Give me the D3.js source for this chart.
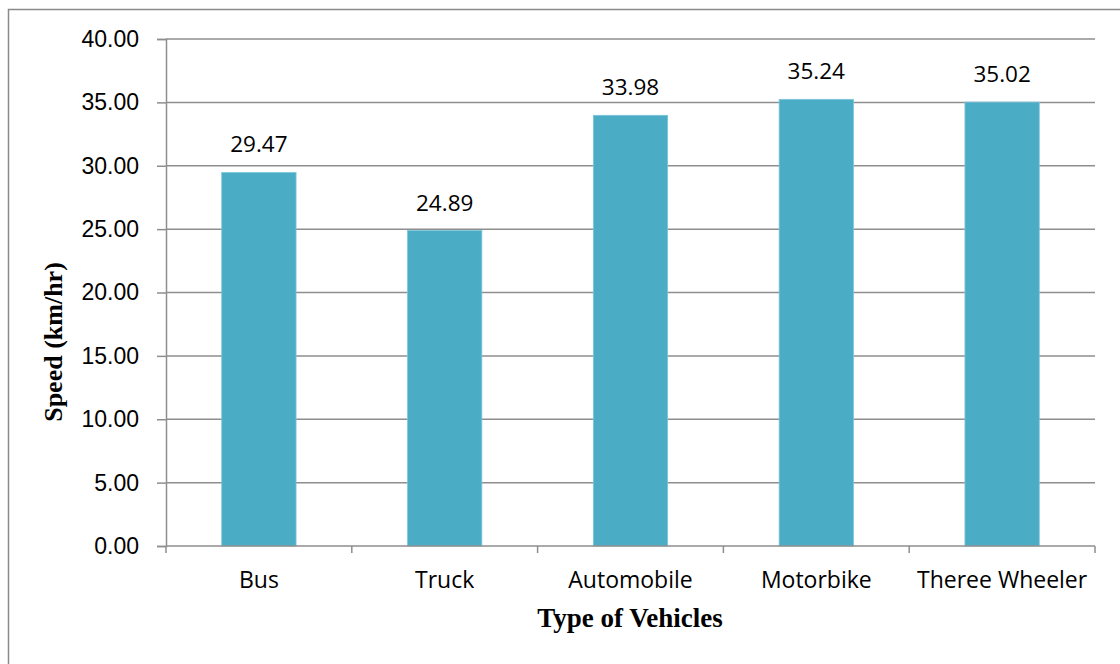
<!DOCTYPE html>
<html>
<head>
<meta charset="utf-8">
<style>
body { margin: 0; background: #fff; }
svg { font-family: "Open Sans", sans-serif; }
.tick text { font-size: 23px; fill: #000; }
</style>
<script src="https://d3js.org/d3.v7.min.js"></script>
</head>
<body>
<svg id="chart" width="1120" height="664"></svg>
<script>

// values
var vehicles = ["Bus", "Truck", "Automobile", "Motorbike", "Theree Wheeler"];
var speeds = [29.47, 24.89, 33.98, 35.24, 35.02];
var yTicks = [0, 5, 10, 15, 20, 25, 30, 35, 40];

var margin = {left: 166, right: 1095, top: 39, bottom: 546};
var gridColor = "#8e8e8e";
var barColor = "#4bacc6";

var svg = d3.select("#chart");

// outer chart frame (runs off the right and bottom of the picture)
svg.append("rect")
    .attr("x", 8.5).attr("y", 9.5)
    .attr("width", 1200).attr("height", 700)
    .attr("fill", "none")
    .attr("stroke", "#8a8a8a")
    .attr("stroke-width", 1.5);

var x = d3.scaleBand()
    .domain(vehicles)
    .range([margin.left, margin.right])
    .paddingInner(0.6)
    .paddingOuter(0.3);

var y = d3.scaleLinear()
    .domain([0, 40])
    .range([margin.bottom, margin.top]);

// horizontal gridlines
svg.append("g")
    .selectAll("line")
    .data(yTicks.slice(1))
    .enter().append("line")
    .attr("x1", margin.left).attr("x2", margin.right)
    .attr("y1", function(d) { return y(d); })
    .attr("y2", function(d) { return y(d); })
    .attr("stroke", gridColor)
    .attr("stroke-width", 1.5);

// bars
svg.append("g")
    .selectAll("rect")
    .data(speeds)
    .enter().append("rect")
    .attr("x", function(d, i) { return x(vehicles[i]); })
    .attr("width", x.bandwidth())
    .attr("y", function(d) { return y(d); })
    .attr("height", function(d) { return y(0) - y(d); })
    .attr("fill", barColor)
    .attr("stroke", "#7cc6da")
    .attr("stroke-width", 0.8);

// value labels
svg.append("g")
    .selectAll("text")
    .data(speeds)
    .enter().append("text")
    .attr("x", function(d, i) { return x(vehicles[i]) + x.bandwidth() / 2; })
    .attr("y", function(d) { return y(d) - 20; })
    .attr("text-anchor", "middle")
    .style("font-size", "22.5px")
    .text(function(d) { return d.toFixed(2); });

// y axis
var yAxis = svg.append("g")
    .attr("transform", "translate(" + margin.left + ",0)")
    .call(d3.axisLeft(y)
        .tickValues(yTicks)
        .tickFormat(d3.format(".2f"))
        .tickSize(9)
        .tickPadding(18));
yAxis.select(".domain").attr("stroke", gridColor).attr("stroke-width", 1.5);
yAxis.selectAll(".tick line").attr("stroke", gridColor).attr("stroke-width", 1.5);

// x axis: ticks sit on category boundaries, so draw them by hand from the band scale
var xAxis = svg.append("g");
xAxis.append("line")
    .attr("x1", margin.left).attr("x2", margin.right)
    .attr("y1", y(0)).attr("y2", y(0))
    .attr("stroke", gridColor).attr("stroke-width", 1.5);

var boundaries = vehicles.map(function(v) { return x(v) - x.step() * x.paddingOuter(); });
boundaries.push(margin.right);
xAxis.selectAll("line.tk")
    .data(boundaries)
    .enter().append("line")
    .attr("class", "tk")
    .attr("x1", function(d) { return d; })
    .attr("x2", function(d) { return d; })
    .attr("y1", y(0)).attr("y2", y(0) + 7)
    .attr("stroke", gridColor).attr("stroke-width", 1.5);

xAxis.selectAll("text")
    .data(vehicles)
    .enter().append("text")
    .attr("x", function(d) { return x(d) + x.bandwidth() / 2; })
    .attr("y", 588)
    .attr("text-anchor", "middle")
    .style("font-size", "23px")
    .text(function(d) { return d; });

// axis titles
svg.append("text")
    .attr("x", 630).attr("y", 627)
    .attr("text-anchor", "middle")
    .style("font-family", "'Liberation Serif', 'Times New Roman', serif")
    .style("font-weight", "bold")
    .style("font-size", "27px")
    .text("Type of Vehicles");

svg.append("text")
    .attr("transform", "translate(62," + 342 + ") rotate(-90)")
    .attr("text-anchor", "middle")
    .style("font-family", "'Liberation Serif', 'Times New Roman', serif")
    .style("font-weight", "bold")
    .style("font-size", "26px")
    .text("Speed (km/hr)");

</script>
</body>
</html>
